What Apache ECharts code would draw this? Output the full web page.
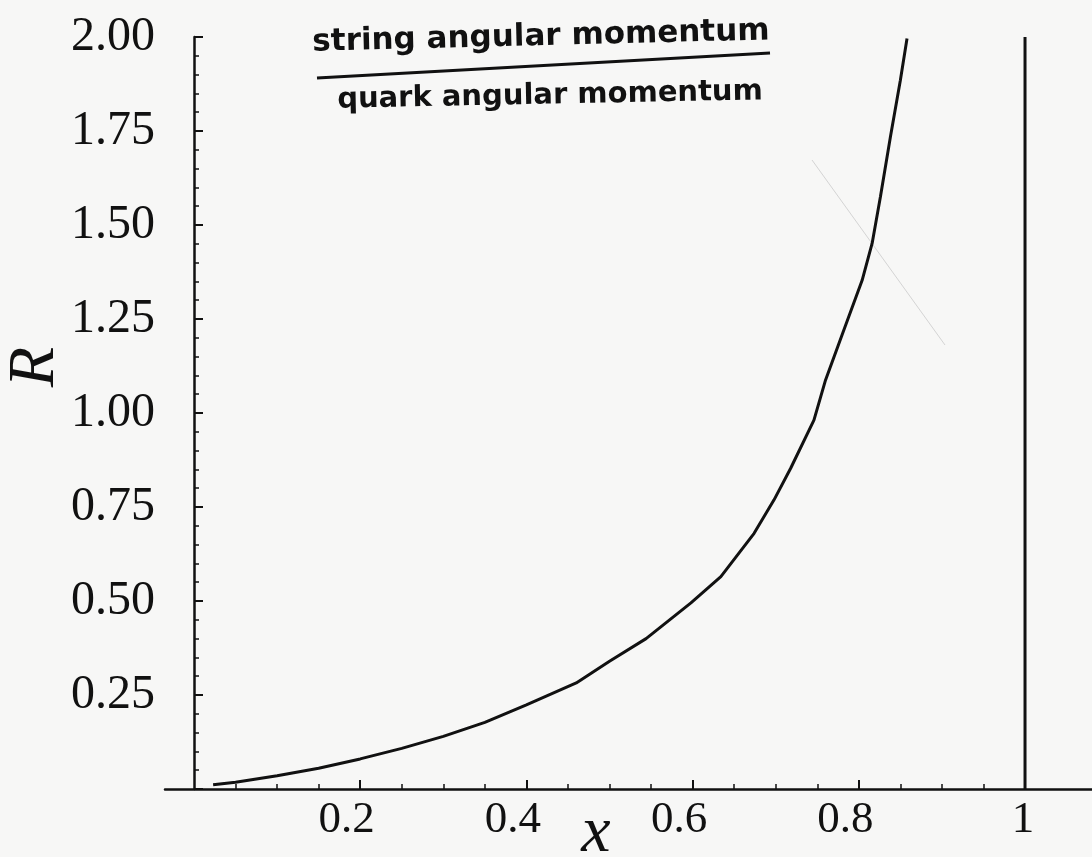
<!DOCTYPE html>
<html>
<head>
<meta charset="utf-8">
<script src="https://cdn.jsdelivr.net/npm/echarts@6/dist/echarts.min.js"></script>
<style>
  html, body { margin: 0; padding: 0; background: #f7f7f6; }
  #chart { width: 1092px; height: 857px; }
</style>
</head>
<body>
<div id="chart"></div>
<script>
// curve R(x)
const xValues = [0.023, 0.05, 0.10, 0.15, 0.20, 0.25, 0.30, 0.35, 0.40, 0.46, 0.50, 0.544,
  0.598, 0.634, 0.674, 0.698, 0.718, 0.746, 0.760, 0.782, 0.804, 0.816, 0.826, 0.838, 0.850, 0.858];
const rValues = [0.011, 0.018, 0.035, 0.055, 0.08, 0.108, 0.14, 0.177, 0.224, 0.282, 0.34, 0.40,
  0.495, 0.565, 0.68, 0.769, 0.853, 0.981, 1.088, 1.221, 1.353, 1.451, 1.575, 1.734, 1.885, 1.996];

// vertical line at x = 1
const wallX = [1, 1];
const wallR = [0, 2];

// ticks
const xMajorTicks = [0.2, 0.4, 0.6, 0.8, 1];
const xTickLabels = ['0.2', '0.4', '0.6', '0.8', '1'];
const xMinorTicks = [0.05, 0.1, 0.15, 0.25, 0.3, 0.35, 0.45, 0.5, 0.55, 0.65, 0.7, 0.75, 0.85, 0.9, 0.95];
const yTickLabels = ['', '0.25', '0.50', '0.75', '1.00', '1.25', '1.50', '1.75', '2.00'];

const numFont = '"Liberation Serif", "DejaVu Serif", serif';
const handFont = '"DejaVu Sans", sans-serif';
const ink = '#111';

const chart = echarts.init(document.getElementById('chart'));

const baseX = {
  type: 'value',
  min: -0.0349,
  max: 1.0806,
  position: 'bottom',
  splitLine: { show: false }
};

chart.setOption({
  animation: false,
  backgroundColor: '#f7f7f6',
  grid: { left: 165, right: 0, top: 37, bottom: 68, containLabel: false },
  xAxis: [
    Object.assign({}, baseX, {
      axisLine: { onZero: true, lineStyle: { color: ink, width: 2.5 } },
      axisTick: { inside: true, length: 9, lineStyle: { color: ink, width: 2 }, customValues: xMajorTicks },
      axisLabel: {
        customValues: xMajorTicks,
        formatter: (v) => {
          const i = xMajorTicks.findIndex((t) => Math.abs(t - v) < 1e-6);
          const s = xTickLabels[i];
          return s.length > 1 ? '{d|' + s + '}' : '{i|' + s + '}';
        },
        fontFamily: numFont, fontSize: 45, color: ink, margin: 9,
        rich: {
          d: { fontFamily: numFont, fontSize: 45, color: ink, padding: [0, 27, 0, 0] },
          i: { fontFamily: numFont, fontSize: 45, color: ink, padding: [0, 4, 0, 0] }
        }
      }
    }),
    Object.assign({}, baseX, {
      axisLine: { show: false },
      axisTick: { inside: true, length: 5, lineStyle: { color: ink, width: 1.5 }, customValues: xMinorTicks },
      axisLabel: { show: false }
    })
  ],
  yAxis: {
    type: 'value',
    min: 0,
    max: 2,
    interval: 0.25,
    splitLine: { show: false },
    axisLine: { onZero: true, onZeroAxisIndex: 0, lineStyle: { color: ink, width: 2.5 } },
    axisTick: { inside: true, length: 9, lineStyle: { color: ink, width: 2 } },
    minorTick: { show: true, splitNumber: 5, length: 5, lineStyle: { color: ink, width: 1.5 } },
    axisLabel: {
      formatter: (v) => yTickLabels[Math.round(v / 0.25)],
      fontFamily: numFont, fontSize: 48, color: ink, margin: 10
    }
  },
  series: [
    {
      type: 'line',
      xAxisIndex: 0,
      data: xValues.map((x, i) => [x, rValues[i]]),
      showSymbol: false,
      smooth: false,
      lineStyle: { color: ink, width: 3 },
      silent: true
    },
    {
      type: 'line',
      xAxisIndex: 0,
      data: wallX.map((x, i) => [x, wallR[i]]),
      showSymbol: false,
      lineStyle: { color: ink, width: 3 },
      silent: true
    }
  ],
  graphic: [
    // axis names
    {
      type: 'text', x: 36, y: 367, rotation: Math.PI / 2,
      style: { text: 'R', font: 'italic 66px ' + numFont, fill: ink, align: 'center', verticalAlign: 'middle' }
    },
    {
      type: 'text', x: 596, y: 834,
      style: { text: 'x', font: 'italic 66px ' + numFont, fill: ink, align: 'center', verticalAlign: 'middle' }
    },
    // handwritten annotation
    {
      type: 'text', x: 541, y: 37, rotation: 0.025,
      style: { text: 'string angular momentum', font: 'bold 31px ' + handFont, fill: ink, align: 'center', verticalAlign: 'middle' }
    },
    {
      type: 'line',
      shape: { x1: 317, y1: 78, x2: 770, y2: 53 },
      style: { stroke: ink, lineWidth: 3 }
    },
    {
      type: 'text', x: 550, y: 96, rotation: 0.02,
      style: { text: 'quark angular momentum', font: 'bold 29px ' + handFont, fill: ink, align: 'center', verticalAlign: 'middle' }
    },
    // faint scan mark
    {
      type: 'line',
      shape: { x1: 812, y1: 160, x2: 945, y2: 345 },
      style: { stroke: '#d4d4d4', lineWidth: 1 }
    }
  ]
});
</script>
</body>
</html>
